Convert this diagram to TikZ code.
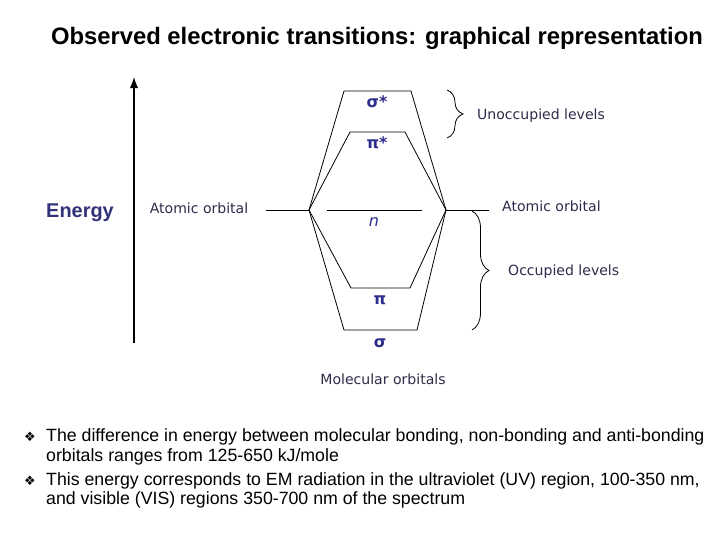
\documentclass[tikz,border=0pt]{standalone}
\usepackage{fontspec}
\setmainfont{Liberation Sans}
\newfontfamily\lightfont{DejaVu Sans}
\newfontfamily\symfont{DejaVu Sans}
\usetikzlibrary{positioning,decorations.pathreplacing,calc}
\definecolor{energyblue}{RGB}{50,50,120}
\definecolor{greekblue}{RGB}{45,45,140}
\definecolor{labelgray}{RGB}{45,45,75}
\tikzset{>=latex}
\tikzset{
  orbital/.style={line width=0.8pt},
  greek/.style={text=greekblue, font=\symfont\bfseries\fontsize{16}{18}\selectfont},
  plain/.style={text=labelgray, font=\lightfont\fontsize{14.1}{16}\selectfont, inner sep=0pt},
  levelbrace/.style={decorate, decoration={brace, amplitude=#1}, line width=0.8pt},
  bullettext/.style={anchor=west, inner sep=0pt, font=\fontsize{17.8}{20}\selectfont}
}

\begin{document}
\begin{tikzpicture}[x=1bp, y=-1bp]
  \useasboundingbox (0,0) rectangle (720,540);
  % title
  \node (title) at (377,38) {\bfseries\fontsize{23.9}{26}\selectfont Observed electronic transitions: graphical representation};
  % energy axis
  \coordinate (Ebottom) at (134,343); %
  \coordinate (Etop) at (134,77); %
  \draw[->, line width=2.8pt] (Ebottom) -- (Etop);
  \node[text=energyblue, font=\bfseries\fontsize{20}{22}\selectfont] (energy) at (80,213) {Energy};
  % atomic orbital levels
  \coordinate (AOLa) at (266,210); %
  \coordinate (AOL) at (309,210); %
  \coordinate (AOR) at (446,210); %
  \coordinate (AORb) at (489,210); %
  \draw[orbital] (AOLa) -- (AOL);
  \draw[orbital] (AOR) -- (AORb);
  % molecular orbital levels
  \coordinate (sigsL) at (344,91); \coordinate (sigsR) at (411,91); %
  \coordinate (pisL) at (350,132); \coordinate (pisR) at (405,132); %
  \coordinate (nL) at (327,210); \coordinate (nR) at (422,210); %
  \coordinate (piL) at (351,288); \coordinate (piR) at (410,288); %
  \coordinate (sigL) at (344,330); \coordinate (sigR) at (417,330); %
  \draw[orbital] (AOL) -- (sigsL) -- (sigsR) -- (AOR);
  \draw[orbital] (AOL) -- (pisL) -- (pisR) -- (AOR);
  \draw[orbital] (nL) -- (nR);
  \draw[orbital] (AOL) -- (piL) -- (piR) -- (AOR);
  \draw[orbital] (AOL) -- (sigL) -- (sigR) -- (AOR);
  \node[greek] (sigstar) at (377,102) {σ*};
  \node[greek] (pistar) at (377,143) {π*};
  \node[text=greekblue, font=\lightfont\itshape\fontsize{16}{18}\selectfont] (nlabel) at (374,222) {n};
  \node[greek] (pilabel) at (380,300) {π};
  \node[greek] (siglabel) at (380,343) {σ};
  % labels
  \node[plain] (aoleft) at (199,208) {Atomic orbital};
  \node[plain, anchor=west] (aoright) at (502,206) {Atomic orbital};
  \node[plain] (molorb) at (383,379) {Molecular orbitals};
  % braces
  \coordinate (ubtop) at (447,90); \coordinate (ubbot) at (447,138); %
  \coordinate (obtop) at (472,211); \coordinate (obbot) at (472,330); %
  \draw[levelbrace=16] (ubtop) -- (ubbot);
  \draw[levelbrace=17] (obtop) -- (obbot);
  \node[plain, anchor=west] (unocc) at (477,116) {Unoccupied levels};
  \node[plain, anchor=west] (occ) at (508,272) {Occupied levels};
  % bullet points
  \node[anchor=west, inner sep=0pt, font=\symfont\fontsize{13}{14}\selectfont] (b1) at (24,437) {❖};
  \node[bullettext] (t1) at (46,437) {The difference in energy between molecular bonding, non-bonding and anti-bonding};
  \node[bullettext] (t2) at (46,457) {orbitals ranges from 125-650 kJ/mole};
  \node[anchor=west, inner sep=0pt, font=\symfont\fontsize{13}{14}\selectfont] (b2) at (24,481) {❖};
  \node[bullettext] (t3) at (46,481) {This energy corresponds to EM radiation in the ultraviolet (UV) region, 100-350 nm,};
  \node[bullettext] (t4) at (46,500) {and visible (VIS) regions 350-700 nm of the spectrum};
\end{tikzpicture}
\end{document}
